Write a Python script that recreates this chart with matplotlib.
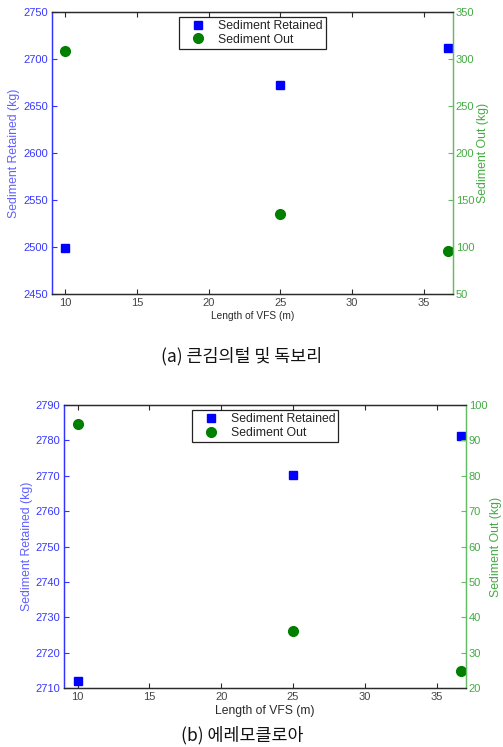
import matplotlib
matplotlib.use('Agg')
import matplotlib.pyplot as plt

# values
vfs_length = [10, 25, 36.67]
retained_a = [2499, 2672, 2711]
out_a = [308.5, 134.5, 95.5]
retained_b = [2712.0, 2770.2, 2781.3]
out_b = [94.6, 36.3, 25.0]

xticks = [10, 15, 20, 25, 30, 35]
yticks_a_left = [2450, 2500, 2550, 2600, 2650, 2700, 2750]
yticks_a_right = [50, 100, 150, 200, 250, 300, 350]
yticks_b_left = list(range(2710, 2791, 10))
yticks_b_right = list(range(20, 101, 10))

captions = ['(a) 큰김의털 및 독보리', '(b) 에레모클로아']

plt.rcParams['font.family'] = ['Liberation Sans', 'DejaVu Sans']

BLUE_TXT = '#3838ff'
BLUE_LBL = '#6060ff'
GREEN_TXT = '#44aa44'
GREEN_SPINE = '#66bb66'
DARK = '#2a2a2a'


def make_panel(fig, rect, retained, out, yl, yr, ylim_l, ylim_r, xlab_size):
    ax = fig.add_axes(rect)
    ax2 = ax.twinx()

    ax.plot(vfs_length, retained, 's', color='#0000ff', ms=6, label='Sediment Retained')
    ax2.plot(vfs_length, out, 'o', color='#007f00', ms=7, label='Sediment Out')

    ax.set_xlim(9.07, 37.04)
    ax.set_xticks(xticks)
    ax.set_ylim(*ylim_l)
    ax.set_yticks(yl)
    ax2.set_ylim(*ylim_r)
    ax2.set_yticks(yr)

    ax.tick_params(axis='x', direction='in', top=True, length=3.5, width=0.8,
                   labelsize=8, labelcolor='#444444', color=DARK, pad=3)
    ax.tick_params(axis='y', direction='in', length=3.5, width=0.8,
                   labelsize=8, labelcolor=BLUE_TXT, color='#3333ff', pad=3)
    ax2.tick_params(axis='y', direction='in', length=3.5, width=0.8,
                    labelsize=8, labelcolor=GREEN_TXT, color=GREEN_SPINE, pad=2)

    for a in (ax, ax2):
        a.spines['top'].set_color(DARK)
        a.spines['bottom'].set_color(DARK)
        a.spines['left'].set_color('#3333ff')
        a.spines['right'].set_color(GREEN_SPINE)
        for s in a.spines.values():
            s.set_linewidth(0.9)

    ax.set_ylabel('Sediment Retained (kg)', color=BLUE_LBL, fontsize=8.8, labelpad=2)
    ax2.set_ylabel('Sediment Out (kg)', color=GREEN_TXT, fontsize=8.8, labelpad=2)
    ax.set_xlabel('Length of VFS (m)', color=DARK, fontsize=xlab_size, labelpad=2)

    h1, l1 = ax.get_legend_handles_labels()
    h2, l2 = ax2.get_legend_handles_labels()
    leg = ax2.legend(h1 + h2, l1 + l2, loc='upper center', bbox_to_anchor=(0.5, 0.982),
                     borderaxespad=0, fontsize=8.8, fancybox=False, framealpha=1,
                     edgecolor='#222222', borderpad=0.25, handlelength=2.6,
                     handletextpad=0.3, labelspacing=0.15)
    leg.get_frame().set_linewidth(0.9)
    for t in leg.get_texts():
        t.set_color('#222222')
    return ax, ax2


fig = plt.figure(figsize=(5.03, 7.47), dpi=100)

make_panel(fig, [0.1034, 0.6064, 0.7972, 0.378], retained_a, out_a,
           yticks_a_left, yticks_a_right, (2450, 2750), (50, 350), 7.3)
make_panel(fig, [0.1278, 0.0786, 0.7986, 0.3792], retained_b, out_b,
           yticks_b_left, yticks_b_right, (2710, 2790), (20, 100), 8.7)

fig.text(0.481, 1 - 356 / 747, captions[0], ha='center', va='center', fontsize=12.5,
         family=['Noto Sans CJK KR', 'DejaVu Sans'], color='#111111')
fig.text(0.481, 1 - 735 / 747, captions[1], ha='center', va='center', fontsize=12.5,
         family=['Noto Sans CJK KR', 'DejaVu Sans'], color='#111111')

fig.savefig('out.png', dpi=100)
